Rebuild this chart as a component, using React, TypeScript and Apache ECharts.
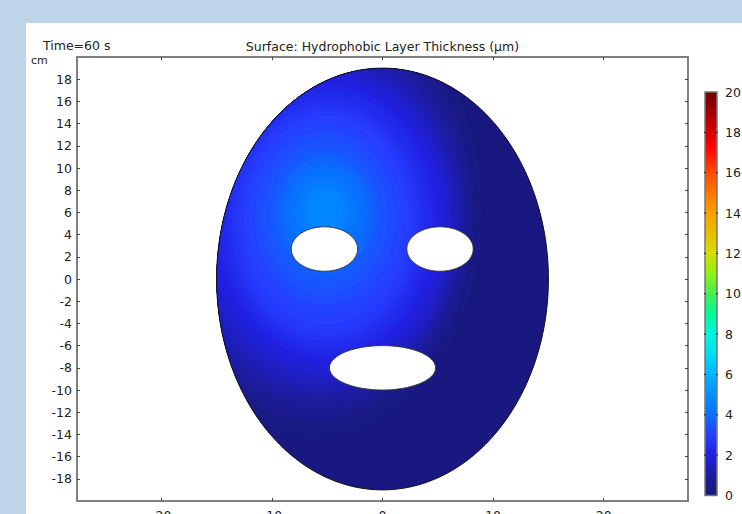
import React, { useEffect, useRef } from "react";
import * as echarts from "echarts";

const xTicks = [-20, -10, 0, 10, 20];
const yTicks = [18, 16, 14, 12, 10, 8, 6, 4, 2, 0, -2, -4, -6, -8, -10, -12, -14, -16, -18];
const barTicks = [0, 2, 4, 6, 8, 10, 12, 14, 16, 18, 20];
const colorStops: [number, number[]][] = [
  [0, [24, 24, 128]],
  [0.5, [26, 26, 135]],
  [2, [32, 32, 225]],
  [3, [38, 62, 255]],
  [4, [8, 112, 255]],
  [5, [0, 145, 255]],
  [6, [0, 180, 255]],
  [7, [0, 222, 245]],
  [8, [0, 245, 225]],
  [9, [0, 250, 150]],
  [10, [70, 240, 80]],
  [11, [145, 240, 20]],
  [12, [215, 220, 0]],
  [14, [250, 160, 0]],
  [16, [255, 75, 0]],
  [17.3, [255, 0, 0]],
  [20, [110, 0, 0]],
];
// face outline and its three openings: cx, cy, rx, ry in cm
const face = [0, 0, 15, 19];
const holes = [
  [-5.25, 2.7, 3, 2],
  [5.2, 2.7, 3, 2],
  [0, -8, 4.8, 2],
];
// thickness isolines: level, cx, cy, rx, ry
const isolines = [
  [0.25, -6.4, 6.2, 15.4, 20.5],
  [0.5, -6.2, 6, 14.6, 19.5],
  [0.625, -6.1, 5.9, 14.2, 18.6],
  [0.75, -6, 5.8, 13.8, 17.8],
  [0.875, -5.9, 5.65, 13.4, 17],
  [1.0, -5.8, 5.5, 13.1, 16.2],
  [1.125, -5.7, 5.4, 12.8, 15.7],
  [1.25, -5.6, 5.3, 12.5, 15.3],
  [1.375, -5.5, 5.25, 12.15, 14.85],
  [1.5, -5.4, 5.2, 11.8, 14.4],
  [1.625, -5.3, 5.2, 11.45, 14],
  [1.75, -5.2, 5.2, 11.1, 13.6],
  [1.875, -5.15, 5.2, 10.75, 13.2],
  [2.0, -5.1, 5.2, 10.4, 12.8],
  [2.125, -5.1, 5.2, 10, 12.35],
  [2.25, -5.1, 5.2, 9.6, 11.9],
  [2.375, -5.1, 5.15, 9.2, 11.5],
  [2.5, -5.1, 5.1, 8.85, 11.1],
  [2.625, -5.1, 5.1, 8.5, 10.7],
  [2.75, -5.1, 5.15, 8.15, 10.3],
  [2.875, -5.1, 5.2, 7.8, 9.9],
  [3.0, -5.1, 5.3, 7.45, 9.4],
  [3.125, -5.15, 5.4, 6.9, 8.6],
  [3.25, -5.2, 5.5, 6.3, 7.8],
  [3.375, -5.2, 5.55, 5.7, 7],
  [3.5, -5.2, 5.6, 5.1, 6.3],
  [3.625, -5.2, 5.7, 4.7, 5.75],
  [3.75, -5.2, 5.8, 4.3, 5.2],
  [3.875, -5.2, 5.85, 3.9, 4.7],
  [4.0, -5.2, 5.9, 3.5, 4.2],
  [4.125, -5.2, 5.95, 3.1, 3.7],
  [4.25, -5.2, 6, 2.7, 3.2],
  [4.375, -5.2, 6.05, 2.3, 2.75],
  [4.5, -5.2, 6.1, 1.9, 2.3],
  [4.625, -5.2, 6.15, 1.45, 1.75],
  [4.75, -5.2, 6.2, 1, 1.2],
];

function colorOf(v: number) {
  let i = 0;
  while (i < colorStops.length - 2 && v > colorStops[i + 1][0]) i++;
  const [a, ca] = colorStops[i];
  const [b, cb] = colorStops[i + 1];
  const t = Math.min(1, Math.max(0, (v - a) / (b - a)));
  const c = ca.map((x, k) => Math.round(x + (cb[k] - x) * t));
  return `rgb(${c[0]},${c[1]},${c[2]})`;
}

// distance from (cx, cy) along direction th to the edge of an ellipse that contains the point
function rayToEllipse(px: number, py: number, th: number, e: number[]) {
  const dx = Math.cos(th) / e[2];
  const dy = Math.sin(th) / e[3];
  const ox = (px - e[0]) / e[2];
  const oy = (py - e[1]) / e[3];
  const A = dx * dx + dy * dy;
  const B = ox * dx + oy * dy;
  const C = ox * ox + oy * oy - 1;
  return (-B + Math.sqrt(B * B - A * C)) / A;
}

function outline(e: number[], api: any, limit?: number[]) {
  const pts: number[][] = [];
  const n = 180;
  for (let i = 0; i < n; i++) {
    const th = (i / n) * Math.PI * 2;
    let r = rayToEllipse(e[0], e[1], th, e);
    if (limit) r = Math.min(r, rayToEllipse(e[0], e[1], th, limit));
    pts.push(api.coord([e[0] + r * Math.cos(th), e[1] + r * Math.sin(th)]));
  }
  return pts;
}

const font = "'DejaVu Sans'";
const ink = "#222";
const frame = "#808080";

export default function App() {
  const ref = useRef<HTMLDivElement>(null);
  useEffect(() => {
    const chart = echarts.init(ref.current!, undefined, { renderer: "svg" });
    const tickLabel = { color: ink, fontFamily: font, fontSize: 12.5 };
    const inTick = { show: true, inside: true, length: 3, lineStyle: { color: "#444", width: 1 } };
    const line = { show: true, onZero: false, lineStyle: { color: frame, width: 2 } };
    chart.setOption({
      animation: false,
      backgroundColor: "transparent",
      grid: [
        { left: 77, top: 57, width: 611, height: 444, outerBoundsMode: "none" },
        { left: 705, top: 92, width: 12, height: 403.5, outerBoundsMode: "none" },
      ],
      xAxis: [
        {
          gridIndex: 0, type: "value", min: -27.62, max: 27.62, position: "bottom",
          axisLine: line, splitLine: { show: false },
          axisTick: { ...inTick, customValues: xTicks },
          axisLabel: { ...tickLabel, margin: 8, customValues: xTicks },
        },
        {
          gridIndex: 0, type: "value", min: -27.62, max: 27.62, position: "top",
          axisLine: line, splitLine: { show: false },
          axisTick: { ...inTick, customValues: xTicks },
          axisLabel: { show: false },
        },
        { gridIndex: 1, type: "value", min: 0, max: 1, show: false },
      ],
      yAxis: [
        {
          gridIndex: 0, type: "value", min: -20, max: 20, position: "left",
          axisLine: line, splitLine: { show: false },
          axisTick: { ...inTick, customValues: yTicks },
          axisLabel: { ...tickLabel, margin: 5, customValues: yTicks },
        },
        {
          gridIndex: 0, type: "value", min: -20, max: 20, position: "right",
          axisLine: line, splitLine: { show: false },
          axisTick: { ...inTick, customValues: yTicks },
          axisLabel: { show: false },
        },
        {
          gridIndex: 1, type: "value", min: 0, max: 20, interval: 2, position: "right",
          axisLine: { show: false }, splitLine: { show: false },
          axisTick: { show: false },
          axisLabel: { ...tickLabel, margin: 8, customValues: barTicks },
        },
      ],
      series: [
        {
          type: "custom", xAxisIndex: 0, yAxisIndex: 0, clip: false, silent: true,
          data: [face],
          renderItem: (_: any, api: any) => ({
            type: "polygon",
            shape: { points: outline(face, api) },
            style: { fill: colorOf(0), stroke: "none" },
          }),
        },
        {
          type: "custom", xAxisIndex: 0, yAxisIndex: 0, clip: false, silent: true,
          data: isolines,
          renderItem: (p: any, api: any) => {
            const row = isolines[p.dataIndex];
            return {
              type: "polygon",
              shape: { points: outline(row.slice(1), api, face) },
              style: { fill: colorOf(row[0]), stroke: "none" },
            };
          },
        },
        {
          type: "custom", xAxisIndex: 0, yAxisIndex: 0, clip: false, silent: true,
          data: [face],
          renderItem: (_: any, api: any) => ({
            type: "polygon",
            shape: { points: outline(face, api) },
            style: { fill: "none", stroke: "#111", lineWidth: 1 },
          }),
        },
        {
          type: "custom", xAxisIndex: 0, yAxisIndex: 0, clip: false, silent: true,
          data: holes,
          renderItem: (p: any, api: any) => ({
            type: "polygon",
            shape: { points: outline(holes[p.dataIndex], api) },
            style: { fill: "#fff", stroke: "#333", lineWidth: 1 },
          }),
        },
        {
          type: "custom", xAxisIndex: 2, yAxisIndex: 2, clip: false, silent: true, z: 3,
          data: [[0, 20]],
          renderItem: (_: any, api: any) => {
            const a = api.coord([0, 0]);
            const b = api.coord([1, 20]);
            return {
              type: "rect",
              shape: { x: a[0], y: b[1], width: b[0] - a[0], height: a[1] - b[1] },
              style: {
                fill: new echarts.graphic.LinearGradient(
                  0, 1, 0, 0,
                  colorStops.map(([v]) => ({ offset: v / 20, color: colorOf(v) }))
                ),
                stroke: "#777",
                lineWidth: 1.5,
              },
            };
          },
        },
        {
          type: "custom", xAxisIndex: 2, yAxisIndex: 2, clip: false, silent: true, z: 4,
          data: barTicks,
          renderItem: (p: any, api: any) => {
            const v = barTicks[p.dataIndex];
            if (v === 0 || v === 20) return null;
            const a = api.coord([0, v]);
            const b = api.coord([1, v]);
            return {
              type: "group",
              children: [
                { type: "line", shape: { x1: a[0] - 1, y1: a[1], x2: a[0] + 1, y2: a[1] }, style: { stroke: "#222", lineWidth: 1 } },
                { type: "line", shape: { x1: b[0] - 1, y1: b[1], x2: b[0] + 1, y2: b[1] }, style: { stroke: "#222", lineWidth: 1 } },
              ],
            };
          },
        },
      ],
      graphic: [
        { type: "text", x: 43, y: 45, style: { text: "Time=60 s", fill: ink, font: `12.5px ${font}`, textVerticalAlign: "middle" } },
        { type: "text", x: 382.5, y: 46, style: { text: "Surface: Hydrophobic Layer Thickness (µm)", fill: ink, font: `12.5px ${font}`, textAlign: "center", textVerticalAlign: "middle" } },
        { type: "text", x: 31, y: 60, style: { text: "cm", fill: ink, font: `11px ${font}`, textVerticalAlign: "middle" } },
        { type: "text", x: 672, y: 516, style: { text: "cm", fill: ink, font: `11px ${font}`, textVerticalAlign: "middle" } },
      ],
    });
    return () => chart.dispose();
  }, []);
  return (
    <div style={{ position: "fixed", left: 0, top: 0, width: 742, height: 514, background: "#bed4e8", overflow: "hidden" }}>
      <div style={{ position: "absolute", left: 26, top: 23, width: 716, height: 491, background: "#fff" }} />
      <div ref={ref} style={{ position: "absolute", left: 0, top: 0, width: 742, height: 514 }} />
    </div>
  );
}
